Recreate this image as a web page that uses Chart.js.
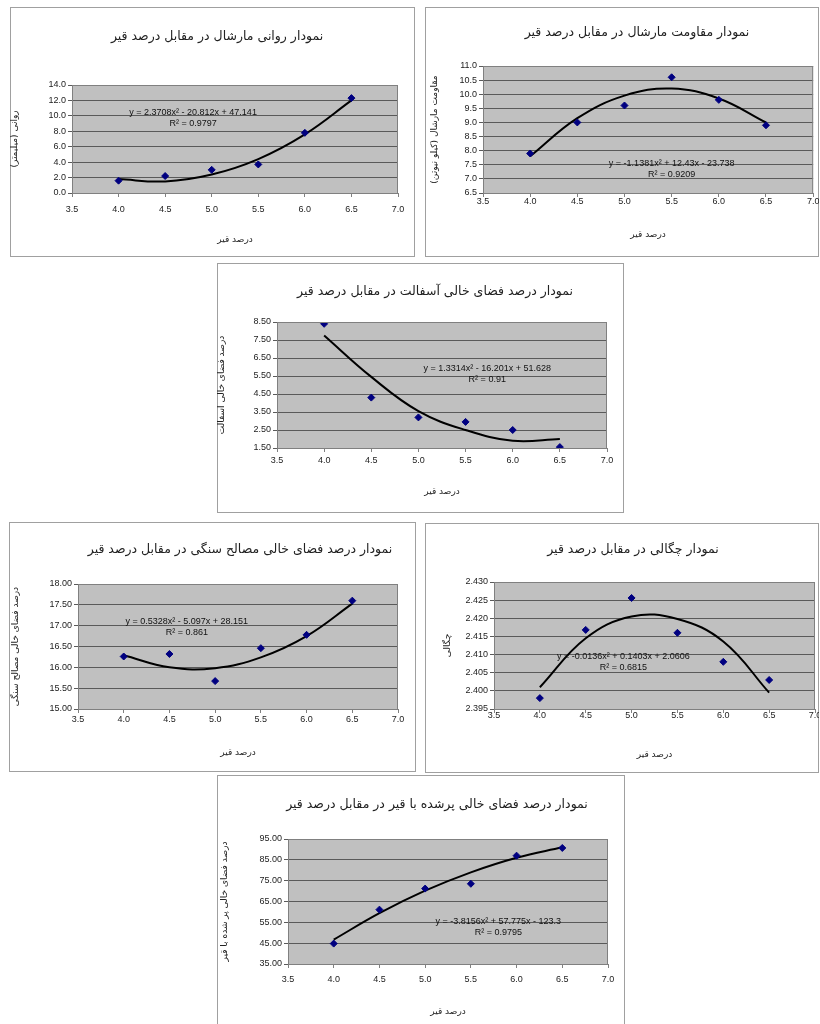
<!DOCTYPE html>
<html>
<head>
<meta charset="utf-8">
<script src="https://cdn.jsdelivr.net/npm/chart.js@4.4.0/dist/chart.umd.min.js"></script>
<style>
  body { margin: 0; background: #fff; width: 820px; height: 1024px; position: relative; overflow: hidden; }
  canvas { position: absolute; direction: rtl; }
</style>
</head>
<body>
<canvas id="c1" width="405" height="250" style="left:10px;top:7px"></canvas>
<canvas id="c2" width="394" height="250" style="left:425px;top:7px"></canvas>
<canvas id="c3" width="407" height="250" style="left:217px;top:263px"></canvas>
<canvas id="c4" width="407" height="250" style="left:9px;top:522px"></canvas>
<canvas id="c5" width="394" height="250" style="left:425px;top:523px"></canvas>
<canvas id="c6" width="408" height="250" style="left:217px;top:775px"></canvas>
<script>
// bitumen content (x) shared by every chart
const bitumen = [4.0, 4.5, 5.0, 5.5, 6.0, 6.5];
const xTickLabels = ['3.5', '4.0', '4.5', '5.0', '5.5', '6.0', '6.5', '7.0'];
const xTitle = 'درصد قیر';

// marshall flow
const flow = [1.6, 2.2, 3.0, 3.7, 7.8, 12.3];
const flowTrend = [1.8, 1.5, 2.4, 4.4, 7.6, 12.0];
const flowTicks = ['0.0', '2.0', '4.0', '6.0', '8.0', '10.0', '12.0', '14.0'];

// marshall stability
const stability = [7.9, 9.0, 9.6, 10.6, 9.8, 8.9];
const stabilityTrend = [7.8, 9.15, 9.95, 10.2, 9.85, 9.0];
const stabilityTicks = ['6.5', '7.0', '7.5', '8.0', '8.5', '9.0', '9.5', '10.0', '10.5', '11.0'];

// air voids of asphalt
const airVoids = [8.4, 4.3, 3.2, 2.95, 2.5, 1.55];
const airVoidsTrend = [7.75, 5.45, 3.55, 2.5, 1.9, 2.0];
const airVoidsTicks = ['1.50', '2.50', '3.50', '4.50', '5.50', '6.50', '7.50', '8.50'];

// voids in mineral aggregate
const vma = [16.26, 16.32, 15.67, 16.46, 16.78, 17.6];
const vmaTrend = [16.29, 16.0, 15.98, 16.24, 16.75, 17.53];
const vmaTicks = ['15.00', '15.50', '16.00', '16.50', '17.00', '17.50', '18.00'];

// density
const density = [2.398, 2.4168, 2.4256, 2.416, 2.408, 2.403];
const densityTrend = [2.401, 2.4145, 2.4205, 2.4198, 2.4136, 2.3995];
const densityTicks = ['2.395', '2.400', '2.405', '2.410', '2.415', '2.420', '2.425', '2.430'];

// voids filled with bitumen
const vfa = [44.8, 61.1, 71.2, 73.5, 87.0, 90.7];
const vfaTrend = [46.7, 59.4, 70.2, 79.0, 86.0, 91.0];
const vfaTicks = ['35.00', '45.00', '55.00', '65.00', '75.00', '85.00', '95.00'];

const FA = '"DejaVu Sans", sans-serif';
const LAT = '"Liberation Sans", Arial, sans-serif';

// white panel, grey plot area, border, chart title and trendline equation
const panel = {
  id: 'panel',
  beforeDraw(chart, args, o) {
    const { ctx, chartArea: a, width, height } = chart;
    ctx.save();
    ctx.fillStyle = '#fff';
    ctx.fillRect(0, 0, width, height);
    ctx.fillStyle = '#c0c0c0';
    ctx.fillRect(a.left, a.top, a.right - a.left, a.bottom - a.top);
    ctx.strokeStyle = '#a0a0a0';
    ctx.lineWidth = 1;
    ctx.strokeRect(0.5, 0.5, width - 1, height - 1);
    ctx.font = '12.5px ' + FA;
    ctx.fillStyle = '#222';
    ctx.textAlign = 'center';
    ctx.textBaseline = 'middle';
    ctx.fillText(o.title, o.titleX, o.titleY);
    ctx.restore();
  },
  afterDraw(chart, args, o) {
    const { ctx, chartArea: a, scales } = chart;
    ctx.save();
    ctx.strokeStyle = '#808080';
    ctx.lineWidth = 1;
    ctx.strokeRect(a.left + 0.5, a.top + 0.5, a.right - a.left - 1, a.bottom - a.top);
    const px = scales.x.getPixelForValue(o.eqAt[0]);
    const py = scales.y.getPixelForValue(o.eqAt[1]);
    ctx.font = '9px ' + LAT;
    ctx.fillStyle = '#111';
    ctx.textAlign = 'center';
    ctx.textBaseline = 'middle';
    o.eq.forEach((line, i) => ctx.fillText(line, px, py + i * 11));
    ctx.restore();
  }
};

function makeChart(id, p) {
  const xVals = xTickLabels.map(Number);
  const yVals = p.yTicks.map(Number);
  return new Chart(document.getElementById(id), {
    type: 'scatter',
    data: {
      datasets: [
        {
          data: bitumen.map((x, i) => ({ x, y: p.pts[i] })),
          pointStyle: 'rectRot', pointRadius: 3.5,
          backgroundColor: '#000080', borderColor: '#000080',
          showLine: false
        },
        {
          data: bitumen.map((x, i) => ({ x, y: p.trend[i] })),
          showLine: true, pointRadius: 0, borderColor: '#000', borderWidth: 2,
          tension: 0.4, fill: false
        }
      ]
    },
    options: {
      responsive: false, animation: false, events: [],
      layout: { autoPadding: false, padding: { left: 0, top: p.T, right: p.R, bottom: 0 } },
      plugins: {
        legend: { display: false }, tooltip: { enabled: false },
        panel: { title: p.title, titleX: p.titleX, titleY: p.titleY, eq: p.eq, eqAt: p.eqAt }
      },
      scales: {
        x: {
          type: 'linear', min: 3.5, max: 7.0,
          afterFit: s => { s.height = p.B; },
          afterBuildTicks: s => { s.ticks = xVals.map(v => ({ value: v })); },
          ticks: { callback: (v, i) => xTickLabels[i], font: { family: LAT, size: 9 }, color: '#222',
                   padding: p.xGap - 9.4, maxRotation: 0, autoSkip: false },
          grid: { drawOnChartArea: false, tickLength: 4, color: '#808080' },
          border: { color: '#808080' },
          title: { display: true, text: xTitle, font: { family: FA, size: 9 }, color: '#222',
                   padding: { top: 0, bottom: p.h - p.xTitleY - 5.4 } }
        },
        y: {
          type: 'linear', min: yVals[0], max: yVals[yVals.length - 1],
          afterFit: s => { s.width = p.L; },
          afterBuildTicks: s => { s.ticks = yVals.map(v => ({ value: v })); },
          ticks: { callback: (v, i) => p.yTicks[i], font: { family: LAT, size: 9 }, color: '#222',
                   padding: 2, autoSkip: false },
          grid: { color: '#5a5a5a', tickLength: 4 },
          border: { color: '#808080' },
          title: { display: true, text: p.yTitle, font: { family: FA, size: 9 }, color: '#222',
                   padding: { top: p.yTitleX - 5.4, bottom: 0 } }
        }
      }
    },
    plugins: [panel]
  });
}

makeChart('c1', {
  h: 250, L: 62, T: 78, R: 17, B: 64, xGap: 17, xTitleY: 233, yTitleX: 5,
  title: 'نمودار روانی مارشال در مقابل درصد قیر', titleX: 207, titleY: 30,
  yTitle: 'روانی (میلیمتر)', pts: flow, trend: flowTrend, yTicks: flowTicks,
  eq: ['y = 2.3708x² - 20.812x + 47.141', 'R² = 0.9797'], eqAt: [4.8, 10.4]
});
makeChart('c2', {
  h: 250, L: 58, T: 59, R: 4, B: 64, xGap: 9, xTitleY: 228, yTitleX: 10,
  title: 'نمودار مقاومت مارشال در مقابل درصد قیر', titleX: 212, titleY: 26,
  yTitle: 'مقاومت مارشال (کیلو نیوتن)', pts: stability, trend: stabilityTrend, yTicks: stabilityTicks,
  eq: ['y = -1.1381x² + 12.43x - 23.738', 'R² = 0.9209'], eqAt: [5.5, 7.56]
});
makeChart('c3', {
  h: 250, L: 60, T: 59, R: 17, B: 65, xGap: 13, xTitleY: 229, yTitleX: 5,
  title: 'نمودار درصد فضای خالی آسفالت در مقابل درصد قیر', titleX: 218, titleY: 29,
  yTitle: 'درصد فضای خالی آسفالت', pts: airVoids, trend: airVoidsTrend, yTicks: airVoidsTicks,
  eq: ['y = 1.3314x² - 16.201x + 51.628', 'R² = 0.91'], eqAt: [5.73, 5.94]
});
makeChart('c4', {
  h: 250, L: 69, T: 62, R: 18, B: 63, xGap: 11, xTitleY: 231, yTitleX: 7,
  title: 'نمودار درصد فضای خالی مصالح سنگی در مقابل درصد قیر', titleX: 231, titleY: 28,
  yTitle: 'درصد فضای خالی مصالح سنگی', pts: vma, trend: vmaTrend, yTicks: vmaTicks,
  eq: ['y = 0.5328x² - 5.097x + 28.151', 'R² = 0.861'], eqAt: [4.69, 17.09]
});
makeChart('c5', {
  h: 250, L: 69, T: 59, R: 4, B: 64, xGap: 7, xTitleY: 232, yTitleX: 23,
  title: 'نمودار چگالی در مقابل درصد قیر', titleX: 208, titleY: 27,
  yTitle: 'چگالی', pts: density, trend: densityTrend, yTicks: densityTicks,
  eq: ['y = -0.0136x² + 0.1403x + 2.0606', 'R² = 0.6815'], eqAt: [4.91, 2.4096]
});
makeChart('c6', {
  h: 250, L: 71, T: 64, R: 17, B: 61, xGap: 16, xTitleY: 237, yTitleX: 8,
  title: 'نمودار درصد فضای خالی پرشده با قیر در مقابل درصد قیر', titleX: 220, titleY: 30,
  yTitle: 'درصد فضای خالی پر شده با قیر', pts: vfa, trend: vfaTrend, yTicks: vfaTicks,
  eq: ['y = -3.8156x² + 57.775x - 123.3', 'R² = 0.9795'], eqAt: [5.8, 55.6]
});
</script>
</body>
</html>
